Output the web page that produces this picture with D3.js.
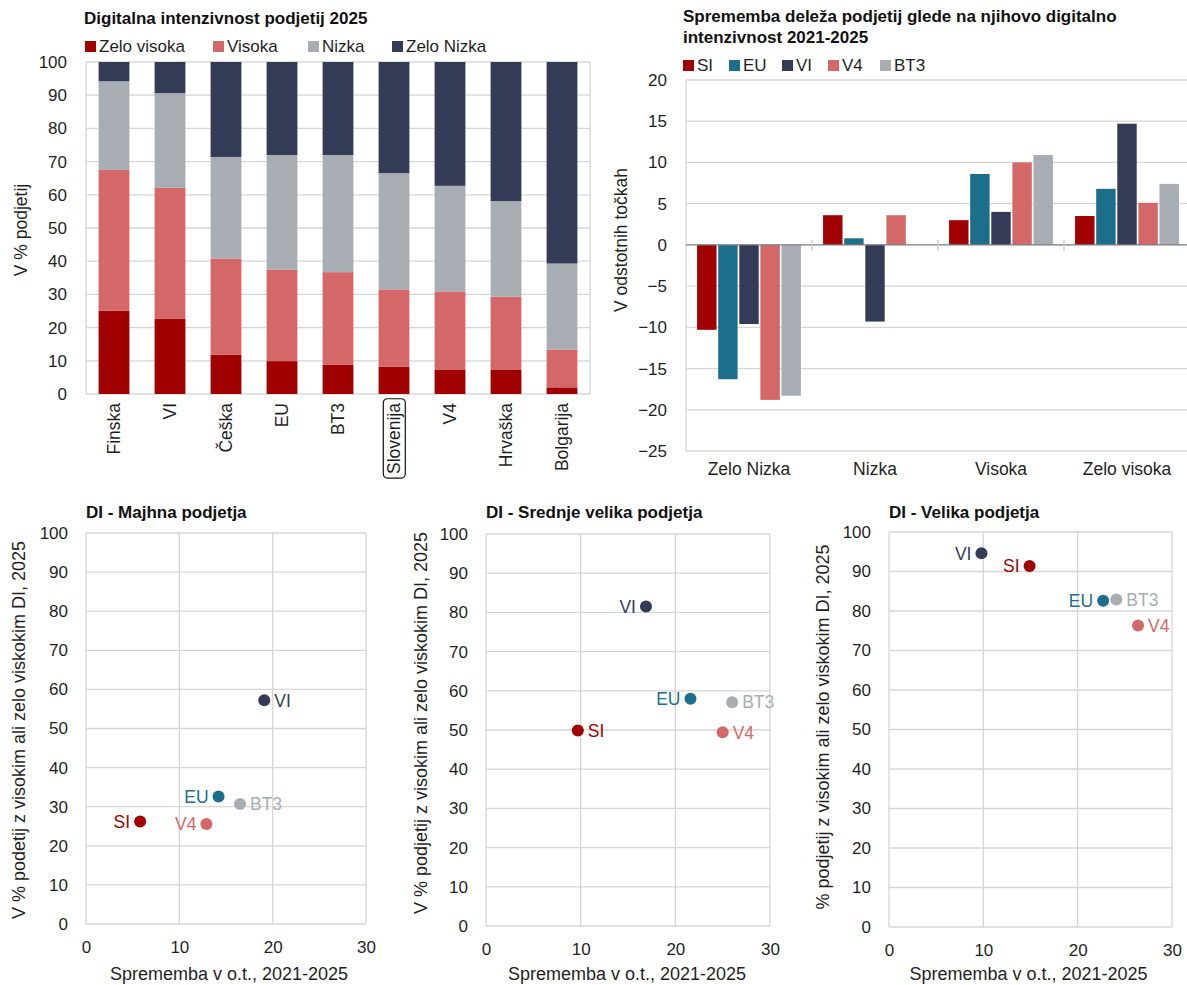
<!DOCTYPE html>
<html><head><meta charset="utf-8">
<script src="https://cdn.jsdelivr.net/npm/d3@7"></script>
<style>
body{margin:0;background:#fff;}
svg{display:block;}
text{font-family:"Liberation Sans",Arial,sans-serif;fill:#1f1f1f;}
.title{font-family:"Liberation Sans Narrow","Arial Narrow",sans-serif;font-weight:bold;font-size:17px;fill:#111;}
</style></head><body>
<svg id="c" width="1187" height="985"></svg>
<script>
// ---------- DATA ----------
const categories = ["Finska","VI","Češka","EU","BT3","Slovenija","V4","Hrvaška","Bolgarija"];
const diLevels = ["Zelo visoka","Visoka","Nizka","Zelo Nizka"];
const zeloVisoka = [25.1,22.7,11.8,9.9,8.8,8.2,7.4,7.4,2.0];
const visoka     = [42.4,39.4,29.0,27.6,27.9,23.3,23.5,21.9,11.4];
const nizka      = [26.7,28.5,30.6,34.5,35.3,35.0,31.8,28.8,25.9];
const zeloNizka  = [5.8,9.4,28.6,28.0,28.0,33.5,37.3,41.9,60.7];
const stackTicks = [0,10,20,30,40,50,60,70,80,90,100];

const changeCats = ["Zelo Nizka","Nizka","Visoka","Zelo visoka"];
const changeSeries = ["SI","EU","VI","V4","BT3"];
const chSI  = [-10.3,3.6,3.0,3.5];
const chEU  = [-16.3,0.8,8.6,6.8];
const chVI  = [-9.6,-9.3,4.0,14.7];
const chV4  = [-18.8,3.6,10.0,5.1];
const chBT3 = [-18.3,0,10.9,7.4];
const changeTicks = [-25,-20,-15,-10,-5,0,5,10,15,20];

const scatterSeries = ["SI","EU","VI","V4","BT3"];
const smallX  = [5.8,14.2,19.1,12.9,16.5];
const smallY  = [26.2,32.6,57.2,25.6,30.7];
const mediumX = [9.7,21.6,16.9,25.0,26.0];
const mediumY = [49.9,58.0,81.5,49.4,57.1];
const largeX  = [14.9,22.7,9.8,26.4,24.1];
const largeY  = [91.4,82.6,94.6,76.3,82.9];
const scatterXTicks = [0,10,20,30];
const scatterYTicks = [0,10,20,30,40,50,60,70,80,90,100];

// ---------- STYLE ----------
const levelColors = ["#a00000","#d46767","#a8adb3","#333b56"];
const seriesColors = {SI:"#a00000",EU:"#1b6f8a",VI:"#333b56",V4:"#d46767",BT3:"#a8adb3"};
const gridColor = "#d6d6d6";
const svg = d3.select("#c");

// ---------- CHART 1: stacked bars ----------
(function(){
  const L=86,R=590,T=62,B=394;
  const g = svg.append("g");
  const x = d3.scaleBand().domain(categories).range([L,R]).paddingInner(0.45).paddingOuter(0.225);
  const y = d3.scaleLinear().domain([0,100]).range([B,T]);
  g.append("text").attr("class","title").attr("x",84).attr("y",24).text("Digitalna intenzivnost podjetij 2025");
  g.selectAll(".gl").data(stackTicks).join("line").attr("x1",L).attr("x2",R)
    .attr("y1",d=>y(d)).attr("y2",d=>y(d)).attr("stroke",gridColor).attr("stroke-width",1.3);
  g.append("line").attr("x1",L).attr("x2",L).attr("y1",T).attr("y2",B).attr("stroke",gridColor).attr("stroke-width",1.3);
  g.append("line").attr("x1",R).attr("x2",R).attr("y1",T).attr("y2",B).attr("stroke",gridColor).attr("stroke-width",1.3);
  const rows = categories.map((c,i)=>({cat:c,"Zelo visoka":zeloVisoka[i],"Visoka":visoka[i],"Nizka":nizka[i],"Zelo Nizka":zeloNizka[i]}));
  const st = d3.stack().keys(diLevels)(rows);
  st.forEach((layer,li)=>{
    g.append("g").selectAll("rect").data(layer).join("rect")
      .attr("x",d=>x(d.data.cat)).attr("width",x.bandwidth())
      .attr("y",d=>y(d[1])).attr("height",d=>y(d[0])-y(d[1]))
      .attr("fill",levelColors[li]);
  });
  const ya = g.append("g").attr("transform",`translate(${L},0)`)
    .call(d3.axisLeft(y).tickValues(stackTicks).tickSize(0).tickPadding(19));
  ya.select(".domain").remove();
  ya.selectAll("text").style("font-size","17px").attr("fill","#1f1f1f").style("font-family","Liberation Sans, Arial, sans-serif");
  g.append("text").attr("transform","translate(27,230) rotate(-90)").attr("text-anchor","middle")
    .style("font-size","17.5px").text("V % podjetij");
  categories.forEach(c=>{
    const gg = g.append("g").attr("transform",`translate(${x(c)+x.bandwidth()/2},403) rotate(-90)`);
    const t = gg.append("text").attr("text-anchor","end").attr("dy","0.36em").style("font-size","17.5px").text(c);
    if(c==="Slovenija"){
      const bb = t.node().getBBox();
      gg.insert("rect","text").attr("x",bb.x-4).attr("y",bb.y-1).attr("width",bb.width+8).attr("height",bb.height+2)
        .attr("rx",4).attr("fill","none").attr("stroke","#111").attr("stroke-width",1.2);
    }
  });
  const lx=[85,213,308,392];
  diLevels.forEach((k,i)=>{
    g.append("rect").attr("x",lx[i]).attr("y",41).attr("width",11).attr("height",11).attr("fill",levelColors[i]);
    g.append("text").attr("x",lx[i]+14).attr("y",52).style("font-size","17px").text(k);
  });
})();

// ---------- CHART 2: grouped bars ----------
(function(){
  const L=686,R=1190,T=80,B=451;
  const g = svg.append("g");
  const vals = {SI:chSI,EU:chEU,VI:chVI,V4:chV4,BT3:chBT3};
  const x0 = d3.scaleBand().domain(changeCats).range([L,R]);
  const x1 = d3.scaleBand().domain(changeSeries).range([x0.bandwidth()*0.088,x0.bandwidth()*0.912]).paddingInner(0.08);
  const y = d3.scaleLinear().domain([-25,20]).range([B,T]);
  g.append("text").attr("class","title").attr("x",683).attr("y",22).text("Sprememba deleža podjetij glede na njihovo digitalno");
  g.append("text").attr("class","title").attr("x",683).attr("y",43).text("intenzivnost 2021-2025");
  g.selectAll(".gl").data(changeTicks.filter(d=>d!==0)).join("line").attr("x1",L).attr("x2",R)
    .attr("y1",d=>y(d)).attr("y2",d=>y(d)).attr("stroke",gridColor).attr("stroke-width",1.3);
  g.append("line").attr("x1",L).attr("x2",L).attr("y1",T).attr("y2",B).attr("stroke",gridColor).attr("stroke-width",1.3);
  changeCats.forEach((c,ci)=>{
    changeSeries.forEach(s=>{
      const v = vals[s][ci];
      if(v===0) return;
      g.append("rect").attr("x",x0(c)+x1(s)).attr("width",x1.bandwidth())
        .attr("y",y(Math.max(0,v))).attr("height",Math.abs(y(v)-y(0)))
        .attr("fill",seriesColors[s]);
    });
  });
  g.append("line").attr("x1",L).attr("x2",R).attr("y1",y(0)).attr("y2",y(0)).attr("stroke","#7a7a7a").attr("stroke-width",1.3);
  changeCats.slice(1).forEach(c=>{
    g.append("line").attr("x1",x0(c)).attr("x2",x0(c)).attr("y1",y(0)-5).attr("y2",y(0)+6).attr("stroke","#c8c8c8").attr("stroke-width",1.3);
  });
  const ya = g.append("g").attr("transform",`translate(${L},0)`)
    .call(d3.axisLeft(y).tickValues(changeTicks).tickSize(0).tickPadding(19));
  ya.select(".domain").remove();
  ya.selectAll("text").style("font-size","17px").attr("fill","#1f1f1f").style("font-family","Liberation Sans, Arial, sans-serif");
  g.append("text").attr("transform","translate(627,240) rotate(-90)").attr("text-anchor","middle")
    .style("font-size","17.5px").text("V odstotnih točkah");
  changeCats.forEach(c=>{
    g.append("text").attr("x",x0(c)+x0.bandwidth()/2).attr("y",475).attr("text-anchor","middle")
      .style("font-size","17.5px").text(c);
  });
  const lx=[683,729,782,828,880];
  changeSeries.forEach((s,i)=>{
    g.append("rect").attr("x",lx[i]).attr("y",60).attr("width",11).attr("height",11).attr("fill",seriesColors[s]);
    g.append("text").attr("x",lx[i]+14).attr("y",71).style("font-size","17px").text(s);
  });
})();

// ---------- SCATTERS ----------
function drawScatter(cfg, xs, ys){
  const {L,R,T,B,title,ylabel,ylx,yly,sides} = cfg;
  const g = svg.append("g");
  const x = d3.scaleLinear().domain([0,30]).range([L,R]);
  const y = d3.scaleLinear().domain([0,100]).range([B,T]);
  g.append("text").attr("class","title").attr("x",L).attr("y",518).text(title);
  g.selectAll(".h").data(scatterYTicks).join("line").attr("x1",L).attr("x2",R)
    .attr("y1",d=>y(d)).attr("y2",d=>y(d)).attr("stroke",gridColor).attr("stroke-width",1.3);
  g.selectAll(".v").data(scatterXTicks).join("line").attr("y1",T).attr("y2",B)
    .attr("x1",d=>x(d)).attr("x2",d=>x(d)).attr("stroke",gridColor).attr("stroke-width",1.3);
  const ya = g.append("g").attr("transform",`translate(${L},0)`)
    .call(d3.axisLeft(y).tickValues(scatterYTicks).tickSize(0).tickPadding(18));
  ya.select(".domain").remove();
  ya.selectAll("text").style("font-size","17px").attr("fill","#1f1f1f").style("font-family","Liberation Sans, Arial, sans-serif");
  const xa = g.append("g").attr("transform",`translate(0,${B})`)
    .call(d3.axisBottom(x).tickValues(scatterXTicks).tickSize(0).tickPadding(17));
  xa.select(".domain").remove();
  xa.selectAll("text").style("font-size","17px").attr("fill","#1f1f1f").style("font-family","Liberation Sans, Arial, sans-serif");
  g.append("text").attr("x",(L+R)/2+(cfg.xtOff||0)).attr("y",980).attr("text-anchor","middle").style("font-size","18px")
    .text("Sprememba v o.t., 2021-2025");
  g.append("text").attr("transform",`translate(${ylx},${yly}) rotate(-90)`).attr("text-anchor","middle")
    .style("font-size","18px").text(ylabel);
  scatterSeries.forEach((s,i)=>{
    const cx=x(xs[i]), cy=y(ys[i]);
    g.append("circle").attr("cx",cx).attr("cy",cy).attr("r",6).attr("fill",seriesColors[s]);
    const right = sides[i]==="r";
    g.append("text").attr("x",cx+(right?10:-10)).attr("y",cy).attr("dy","0.36em")
      .attr("text-anchor",right?"start":"end").style("font-size","17.5px")
      .attr("fill",seriesColors[s]).style("fill",seriesColors[s]).text(s);
  });
}
drawScatter({L:86,R:366,T:533,B:924,title:"DI - Majhna podjetja",
  ylabel:"V % podetij z visokim ali zelo viskokim DI, 2025",ylx:25,yly:730,xtOff:3,
  sides:["l","l","r","l","r"]}, smallX, smallY);
drawScatter({L:486,R:770,T:534,B:926,title:"DI - Srednje velika podjetja",
  ylabel:"V % podjetij z visokim ali zelo viskokim DI, 2025",ylx:427,yly:723,xtOff:-1,
  sides:["r","l","l","r","r"]}, mediumX, mediumY);
drawScatter({L:889,R:1172,T:532,B:927,title:"DI - Velika podjetja",
  ylabel:"% podjetij z visokim ali zelo viskokim DI, 2025",ylx:829,yly:727,xtOff:-2,
  sides:["l","l","l","r","r"]}, largeX, largeY);
</script>
</body></html>
